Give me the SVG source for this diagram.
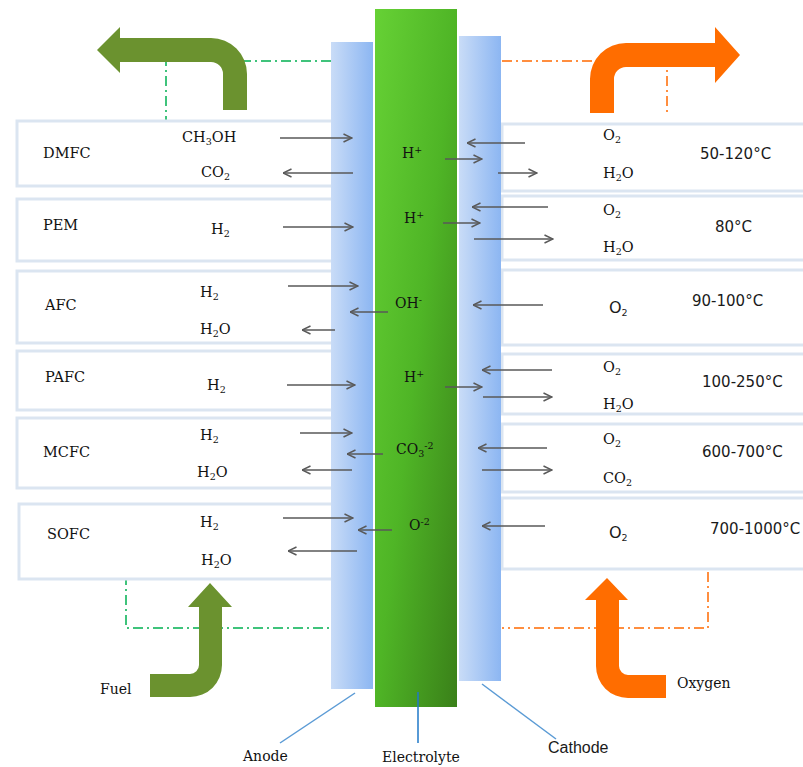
<svg xmlns="http://www.w3.org/2000/svg" width="803" height="767" viewBox="0 0 803 767">
<style>
.box{fill:#ffffff;stroke:#dbe5f1;stroke-width:3}
.s{font-family:"DejaVu Serif","Liberation Serif",serif;font-size:14.5px;fill:#111111}
.e{font-family:"DejaVu Serif","Liberation Serif",serif;font-size:14px;fill:#111111}
.t{font-family:"DejaVu Sans","Liberation Sans",sans-serif;font-size:15px;fill:#1a1a1a}
.big{font-family:"DejaVu Sans","Liberation Sans",sans-serif;font-size:16px;fill:#1a1a1a}
.lab{font-family:"DejaVu Serif","Liberation Serif",serif;font-size:14px;fill:#111111}
.labs{font-family:"Liberation Sans","DejaVu Sans",sans-serif;font-size:16px;fill:#1a1a1a}
.sub{font-size:9.5px}
.ar{stroke:#595959;stroke-width:1.5;fill:none;marker-end:url(#ah)}
.gd{stroke:#00b050;stroke-width:1.5;fill:none;stroke-dasharray:10 4 2 4}
.od{stroke:#ff6a00;stroke-width:1.5;fill:none;stroke-dasharray:10 4 2 4}
.ld{stroke:#5b9bd5;stroke-width:1.5;fill:none}
</style>
<defs>
<marker id="ah" viewBox="0 0 10 10" refX="9.5" refY="5" markerWidth="10" markerHeight="10" markerUnits="userSpaceOnUse" orient="auto">
<path d="M1,1 L9.5,5 L1,9" fill="none" stroke="#595959" stroke-width="1.5"/>
</marker>
<linearGradient id="blue" x1="0" y1="0" x2="1" y2="0">
<stop offset="0" stop-color="#c9dcf7"/>
<stop offset="1" stop-color="#8cb6f2"/>
</linearGradient>
<linearGradient id="green" x1="0" y1="0" x2="1" y2="1">
<stop offset="0" stop-color="#66d135"/>
<stop offset="0.5" stop-color="#4fb526"/>
<stop offset="1" stop-color="#3a8019"/>
</linearGradient>
</defs>

<rect width="803" height="767" fill="#ffffff"/>

<g id="flow-lines">
<path class="gd" d="M331,61 H166 V120"/>
<path class="od" d="M502,61 H667 V115"/>
<path class="gd" d="M126,575 V628 H331"/>
<path class="od" d="M708,572 V628 H502"/>
</g>

<g id="exhaust-anode"><path fill="#6b922f" d="M247,110 L247,74 A36,36 0 0 0 211,38 L120,38 L120,27 L97,50 L120,73 L120,62 L211,62 A12,12 0 0 1 223,74 L223,110 Z"/></g>
<g id="exhaust-cathode"><path fill="#ff6d00" d="M590,113 L590,79 A36,36 0 0 1 626,43 L715,43 L715,27 L740,55 L715,83 L715,67 L626,67 A12,12 0 0 0 614,79 L614,113 Z"/></g>
<g id="fuel-in"><path fill="#6b922f" d="M150,674 L190,674 A9,9 0 0 0 199,665 L199,607 L188,607 L210,583 L232,607 L222,607 L222,665 A32,32 0 0 1 190,697 L150,697 Z"/></g>
<g id="oxygen-in"><path fill="#ff6d00" d="M666,675 L628,675 A9,9 0 0 1 619,666 L619,600 L628,600 L607,578 L585,600 L596,600 L596,666 A32,32 0 0 0 628,698 L666,698 Z"/></g>

<g id="dmfc-left"><rect class="box" x="17" y="121" width="320" height="65"/>
<text class="s" x="43" y="158">DMFC</text>
<text class="s" x="182" y="142">CH<tspan class="sub" dy="3">3</tspan><tspan dy="-3">OH</tspan></text>
<text class="s" x="201" y="177">CO<tspan class="sub" dy="3">2</tspan></text></g>
<g id="pem-left"><rect class="box" x="17" y="199" width="320" height="62"/>
<text class="s" x="43" y="230">PEM</text>
<text class="s" x="211" y="234">H<tspan class="sub" dy="3">2</tspan></text></g>
<g id="afc-left"><rect class="box" x="17" y="271" width="320" height="72"/>
<text class="s" x="45" y="310">AFC</text>
<text class="s" x="200" y="297">H<tspan class="sub" dy="3">2</tspan></text>
<text class="s" x="200" y="334">H<tspan class="sub" dy="3">2</tspan><tspan dy="-3">O</tspan></text></g>
<g id="pafc-left"><rect class="box" x="17" y="351" width="320" height="59"/>
<text class="s" x="45" y="382">PAFC</text>
<text class="s" x="207" y="390">H<tspan class="sub" dy="3">2</tspan></text></g>
<g id="mcfc-left"><rect class="box" x="17" y="418" width="320" height="70"/>
<text class="s" x="43" y="457">MCFC</text>
<text class="s" x="200" y="440">H<tspan class="sub" dy="3">2</tspan></text>
<text class="s" x="197" y="477">H<tspan class="sub" dy="3">2</tspan><tspan dy="-3">O</tspan></text></g>
<g id="sofc-left"><rect class="box" x="19" y="504" width="318" height="75"/>
<text class="s" x="47" y="539">SOFC</text>
<text class="s" x="200" y="527">H<tspan class="sub" dy="3">2</tspan></text>
<text class="s" x="201" y="565">H<tspan class="sub" dy="3">2</tspan><tspan dy="-3">O</tspan></text></g>

<g id="dmfc-right"><rect class="box" x="502" y="124" width="320" height="67"/>
<text class="s" x="603" y="140">O<tspan class="sub" dy="3">2</tspan></text>
<text class="s" x="603" y="178">H<tspan class="sub" dy="3">2</tspan><tspan dy="-3">O</tspan></text>
<text class="t" x="700" y="159">50-120°C</text></g>
<g id="pem-right"><rect class="box" x="502" y="196" width="320" height="64"/>
<text class="s" x="603" y="215">O<tspan class="sub" dy="3">2</tspan></text>
<text class="s" x="603" y="252">H<tspan class="sub" dy="3">2</tspan><tspan dy="-3">O</tspan></text>
<text class="t" x="715" y="232">80°C</text></g>
<g id="afc-right"><rect class="box" x="502" y="270" width="320" height="75"/>
<text class="big" x="609" y="313">O<tspan class="sub" dy="3">2</tspan></text>
<text class="t" x="692" y="306">90-100°C</text></g>
<g id="pafc-right"><rect class="box" x="502" y="354" width="320" height="60"/>
<text class="s" x="603" y="372">O<tspan class="sub" dy="3">2</tspan></text>
<text class="s" x="603" y="409">H<tspan class="sub" dy="3">2</tspan><tspan dy="-3">O</tspan></text>
<text class="t" x="702" y="387">100-250°C</text></g>
<g id="mcfc-right"><rect class="box" x="502" y="424" width="320" height="68"/>
<text class="s" x="603" y="444">O<tspan class="sub" dy="3">2</tspan></text>
<text class="s" x="603" y="483">CO<tspan class="sub" dy="3">2</tspan></text>
<text class="t" x="702" y="457">600-700°C</text></g>
<g id="sofc-right"><rect class="box" x="502" y="498" width="320" height="71"/>
<text class="big" x="609" y="538">O<tspan class="sub" dy="3">2</tspan></text>
<text class="t" x="710" y="534">700-1000°C</text></g>

<g id="anode"><rect x="331" y="42" width="42" height="647" fill="url(#blue)"/></g>
<g id="cathode"><rect x="459" y="36" width="42" height="645" fill="url(#blue)"/></g>
<g id="electrolyte"><rect x="375" y="9" width="82" height="698" fill="url(#green)"/>
<text class="e" x="402" y="158">H<tspan class="sub" dy="-5">+</tspan></text>
<text class="e" x="404" y="223">H<tspan class="sub" dy="-5">+</tspan></text>
<text class="e" x="395" y="308">OH<tspan class="sub" dy="-5">-</tspan></text>
<text class="e" x="404" y="382">H<tspan class="sub" dy="-5">+</tspan></text>
<text class="e" x="396" y="454">CO<tspan class="sub" dy="3">3</tspan><tspan class="sub" dy="-8">-2</tspan></text>
<text class="e" x="409" y="530">O<tspan class="sub" dy="-5">-2</tspan></text>
</g>

<g id="connectors">
<line class="ar" x1="280" y1="138" x2="352" y2="138"/>
<line class="ar" x1="353" y1="173" x2="283" y2="173"/>
<line class="ar" x1="283" y1="227" x2="353" y2="227"/>
<line class="ar" x1="288" y1="286" x2="358" y2="286"/>
<line class="ar" x1="335" y1="330" x2="302" y2="330"/>
<line class="ar" x1="388" y1="312" x2="350" y2="312"/>
<line class="ar" x1="287" y1="385" x2="355" y2="385"/>
<line class="ar" x1="300" y1="433" x2="352" y2="433"/>
<line class="ar" x1="352" y1="470" x2="302" y2="470"/>
<line class="ar" x1="383" y1="454" x2="347" y2="454"/>
<line class="ar" x1="283" y1="518" x2="353" y2="518"/>
<line class="ar" x1="357" y1="551" x2="288" y2="551"/>
<line class="ar" x1="392" y1="530" x2="358" y2="530"/>
<line class="ar" x1="525" y1="143" x2="467" y2="143"/>
<line class="ar" x1="445" y1="159" x2="482" y2="159"/>
<line class="ar" x1="498" y1="173" x2="537" y2="173"/>
<line class="ar" x1="548" y1="207" x2="472" y2="207"/>
<line class="ar" x1="443" y1="223" x2="480" y2="223"/>
<line class="ar" x1="474" y1="239" x2="553" y2="239"/>
<line class="ar" x1="543" y1="305" x2="473" y2="305"/>
<line class="ar" x1="552" y1="370" x2="482" y2="370"/>
<line class="ar" x1="445" y1="387" x2="482" y2="387"/>
<line class="ar" x1="483" y1="397" x2="552" y2="397"/>
<line class="ar" x1="547" y1="448" x2="478" y2="448"/>
<line class="ar" x1="482" y1="470" x2="552" y2="470"/>
<line class="ar" x1="545" y1="526" x2="482" y2="526"/>
<line class="ld" x1="355" y1="693" x2="280" y2="743"/>
<line x1="418" y1="692" x2="418" y2="743" stroke="#1f78c8" stroke-width="1.5"/>
<line class="ld" x1="482" y1="684" x2="556" y2="739"/>
</g>

<g id="labels">
<text class="lab" x="100" y="694">Fuel</text>
<text class="lab" x="243" y="761">Anode</text>
<text class="lab" x="382" y="762">Electrolyte</text>
<text class="labs" x="548" y="753">Cathode</text>
<text class="lab" x="677" y="688">Oxygen</text>
</g>
</svg>
